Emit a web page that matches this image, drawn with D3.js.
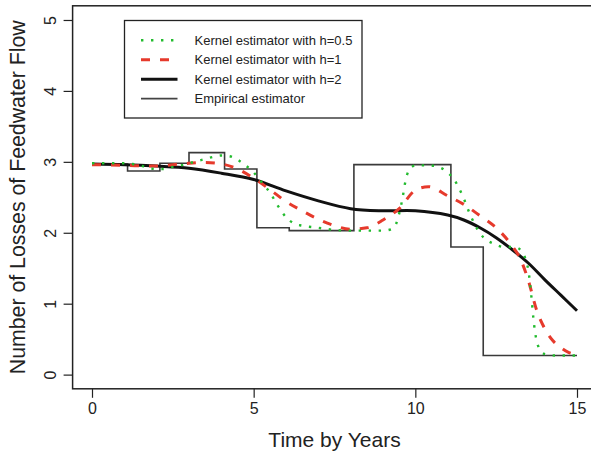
<!DOCTYPE html>
<html>
<head>
<meta charset="utf-8">
<script src="https://cdn.jsdelivr.net/npm/d3@7"></script>
<style>
  html, body { margin: 0; padding: 0; background: #fff; }
  svg { display: block; font-family: "Liberation Sans", Arial, Helvetica, sans-serif; }
</style>
</head>
<body>
<svg id="chart" width="591" height="456"></svg>
<script>
// ---- data ----
const xTicks = [0, 5, 10, 15];
const yTicks = [0, 1, 2, 3, 4, 5];
const xTitle = "Time by Years";
const yTitle = "Number of Losses of Feedwater Flow";

const legendLabels = [
  "Kernel estimator with h=0.5",
  "Kernel estimator with h=1",
  "Kernel estimator with h=2",
  "Empirical estimator"
];

// Empirical (step) estimator
const empTimes  = [0, 1.1, 2.1, 3.0, 4.1, 5.1, 6.1, 8.1, 11.1, 12.1, 15];
const empValues = [2.97, 2.87, 2.98, 3.13, 2.90, 2.07, 2.03, 2.96, 1.80, 0.27, 0.27];

// Kernel estimator h = 0.5 (green dotted)
const h05Times  = [0, 0.5, 1.0, 1.25, 1.5, 1.75, 2.0, 2.25, 2.5, 2.75, 3.0, 3.25, 3.5, 3.75, 4.0, 4.25, 4.5, 4.75,
                   5.0, 5.25, 5.5, 5.75, 6.0, 6.25, 6.5, 7.0, 7.5, 8.0, 8.5, 9.0, 9.25, 9.4, 9.5, 9.6, 9.7, 9.8,
                   10.0, 10.4, 10.7, 11.0, 11.2, 11.35, 11.5, 11.7, 11.85, 12.0, 12.2, 12.45, 12.75, 13.05, 13.3,
                   13.42, 13.5, 13.55, 13.6, 13.65, 13.7, 13.75, 13.83, 14.0, 14.35, 15.0];
const h05Values = [2.98, 2.98, 2.98, 2.97, 2.95, 2.91, 2.90, 2.90, 2.93, 2.95, 2.98, 3.01, 3.04, 3.07, 3.09, 3.08, 3.03, 2.95,
                   2.85, 2.71, 2.57, 2.38, 2.22, 2.13, 2.10, 2.07, 2.04, 2.03, 2.03, 2.03, 2.05, 2.12, 2.27, 2.48, 2.74, 2.88,
                   2.95, 2.95, 2.93, 2.85, 2.75, 2.63, 2.48, 2.25, 2.11, 1.99, 1.90, 1.84, 1.80, 1.80, 1.74,
                   1.61, 1.46, 1.28, 1.05, 0.80, 0.61, 0.48, 0.37, 0.29, 0.27, 0.27];

// Kernel estimator h = 1 (red dashed)
const h1Times  = [0, 1, 2, 2.5, 3, 3.5, 4, 4.5, 5, 5.5, 6, 6.5, 7, 7.5, 8, 8.5, 9, 9.5, 10, 10.4, 11, 11.5, 12,
                  12.5, 13, 13.25, 13.5, 13.75, 14, 14.25, 14.5, 14.75, 15];
const h1Values = [2.96, 2.95, 2.94, 2.96, 2.98, 2.99, 2.97, 2.90, 2.77, 2.61, 2.44, 2.31, 2.19, 2.10, 2.05, 2.07, 2.18,
                  2.34, 2.60, 2.65, 2.52, 2.40, 2.24, 2.07, 1.81, 1.63, 1.32, 0.91, 0.65, 0.48, 0.38, 0.31, 0.28];

// Kernel estimator h = 2 (black solid)
const h2Times  = [0, 1, 2, 3, 4, 5, 6, 7, 8, 9, 10, 11, 11.5, 12, 12.5, 13, 13.5, 14, 14.5, 15];
const h2Values = [2.97, 2.96, 2.94, 2.91, 2.84, 2.75, 2.59, 2.45, 2.34, 2.31, 2.31, 2.25, 2.18, 2.07, 1.93,
                  1.76, 1.57, 1.34, 1.12, 0.90];

// ---- drawing ----
const svg = d3.select("#chart");

const x = d3.scaleLinear().domain([-0.6, 15.6]).range([72.6, 596.4]);
const y = d3.scaleLinear().domain([-0.2, 5.2]).range([388.8, 5.8]);

const zip = (xs, ys) => xs.map((t, i) => [t, ys[i]]);

const green = "#22bb2e", red = "#e63a2c";

// plot box
svg.append("rect")
  .attr("x", x(-0.6)).attr("y", y(5.2))
  .attr("width", x(15.6) - x(-0.6)).attr("height", y(-0.2) - y(5.2))
  .attr("fill", "none").attr("stroke", "#222").attr("stroke-width", 1.5);

// axes
const xAxis = d3.axisBottom(x).tickValues(xTicks).tickSize(9).tickPadding(5).tickFormat(d3.format("d"));
const gx = svg.append("g").attr("transform", `translate(0,${y(-0.2)})`).call(xAxis);
gx.select(".domain").remove();
gx.selectAll(".tick line").attr("stroke", "#222").attr("stroke-width", 1.2);
gx.selectAll(".tick text").attr("font-size", 16).attr("fill", "#222")
  .attr("font-family", "Liberation Sans, Arial, sans-serif");

const yAxis = d3.axisLeft(y).tickValues(yTicks).tickSize(9).tickPadding(0).tickFormat(d3.format("d"));
const gy = svg.append("g").attr("transform", `translate(${x(-0.6)},0)`).call(yAxis);
gy.select(".domain").remove();
gy.selectAll(".tick line").attr("stroke", "#222").attr("stroke-width", 1.2);
gy.selectAll(".tick text").attr("font-size", 16).attr("fill", "#222")
  .attr("font-family", "Liberation Sans, Arial, sans-serif")
  .attr("text-anchor", "middle")
  .attr("x", 0).attr("dy", 0)
  .attr("transform", "translate(-22,0) rotate(-90)")
  .attr("dominant-baseline", "central");

// axis titles
svg.append("text")
  .attr("x", (x(0) + x(15)) / 2).attr("y", 447)
  .attr("text-anchor", "middle").attr("font-size", 21).attr("fill", "#222")
  .text(xTitle);
svg.append("text")
  .attr("transform", `translate(25,${(y(0) + y(5)) / 2}) rotate(-90)`)
  .attr("text-anchor", "middle").attr("font-size", 21.3).attr("fill", "#222")
  .text(yTitle);

// series
const smooth = d3.line().x(d => x(d[0])).y(d => y(d[1])).curve(d3.curveMonotoneX);
const smoothCR = d3.line().x(d => x(d[0])).y(d => y(d[1])).curve(d3.curveCatmullRom.alpha(0.5));
const step = d3.line().x(d => x(d[0])).y(d => y(d[1])).curve(d3.curveStepAfter);

const plot = svg.append("g");

plot.append("path").datum(zip(empTimes, empValues))
  .attr("d", step).attr("fill", "none").attr("stroke", "#3a3a3a").attr("stroke-width", 1.6);

plot.append("path").datum(zip(h2Times, h2Values))
  .attr("d", smoothCR).attr("fill", "none").attr("stroke", "#111").attr("stroke-width", 3);

plot.append("path").datum(zip(h1Times, h1Values))
  .attr("d", smooth).attr("fill", "none").attr("stroke", red).attr("stroke-width", 3)
  .attr("stroke-dasharray", "9,10");

plot.append("path").datum(zip(h05Times, h05Values))
  .attr("d", smooth).attr("fill", "none").attr("stroke", green).attr("stroke-width", 2.4)
  .attr("stroke-dasharray", "2.4,7.6");

// legend
const lg = svg.append("g");
lg.append("rect").attr("x", 124.5).attr("y", 20.5).attr("width", 237.5).attr("height", 97.5)
  .attr("fill", "#fff").attr("stroke", "#222").attr("stroke-width", 1.3);

const legendStyles = [
  { stroke: green, width: 2.4, dash: "2.4,7.6" },
  { stroke: red, width: 3, dash: "9,10" },
  { stroke: "#111", width: 3, dash: null },
  { stroke: "#444", width: 1.8, dash: null }
];
const rowY = [40.3, 59.8, 79.3, 98.7];
legendLabels.forEach((lab, i) => {
  const s = legendStyles[i];
  const l = lg.append("line").attr("x1", 141).attr("x2", 177.5)
    .attr("y1", rowY[i]).attr("y2", rowY[i])
    .attr("stroke", s.stroke).attr("stroke-width", s.width);
  if (s.dash) l.attr("stroke-dasharray", s.dash);
  lg.append("text").attr("x", 194.5).attr("y", rowY[i]).attr("dy", "0.35em")
    .attr("font-size", 13).attr("fill", "#222").text(lab);
});
</script>
</body>
</html>
